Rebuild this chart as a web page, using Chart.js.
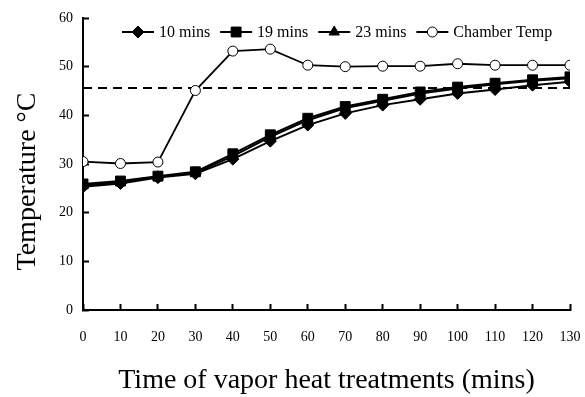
<!DOCTYPE html>
<html>
<head>
<meta charset="utf-8">
<script src="https://cdn.jsdelivr.net/npm/chart.js@4.4.0/dist/chart.umd.min.js"></script>
<style>
  html, body { margin: 0; padding: 0; background: #fff; }
  #wrap { width: 585px; height: 397px; }
</style>
</head>
<body>
<div id="wrap"><canvas id="temps" width="585" height="397"></canvas></div>
<script>
const times = [0, 10, 20, 30, 40, 50, 60, 70, 80, 90, 100, 110, 120, 130];
const mins10 = [25.3, 26.0, 27.2, 28.0, 31.0, 34.7, 38.0, 40.4, 42.1, 43.3, 44.5, 45.3, 46.2, 46.9];
const mins19 = [25.9, 26.5, 27.5, 28.4, 32.1, 36.0, 39.4, 41.8, 43.3, 44.8, 45.8, 46.6, 47.3, 47.9];
const mins23 = [25.6, 26.3, 27.4, 28.2, 31.6, 35.6, 39.0, 41.5, 43.0, 44.5, 45.5, 46.4, 47.1, 47.6];
const chamberTemp = [30.5, 30.1, 30.4, 45.1, 53.2, 53.6, 50.3, 50.0, 50.1, 50.1, 50.6, 50.3, 50.3, 50.3];
const targetTemp = 45.6;
const yTicks = [0, 10, 20, 30, 40, 50, 60];

const serif = "'Liberation Serif', 'Times New Roman', serif";

function toPoints(vals) {
  return times.map((t, i) => ({ x: t, y: vals[i] }));
}

function series(label, vals, style, radius, fill) {
  return {
    label: label,
    data: toPoints(vals),
    borderColor: '#000',
    borderWidth: 2,
    pointStyle: style,
    pointRadius: radius,
    pointBackgroundColor: fill,
    pointBorderColor: '#000',
    pointBorderWidth: 1,
    tension: 0
  };
}

// legend drawn as a row inside the top of the plot: line + marker, then the label
const rowLegend = {
  id: 'rowLegend',
  afterDraw(chart) {
    const c = chart.ctx;
    const area = chart.chartArea;
    const y = area.top + 14;
    let x = area.left + 39;
    c.save();
    c.font = '16px ' + serif;
    c.textBaseline = 'middle';
    chart.data.datasets.forEach(ds => {
      if (ds.label === 'target') return;
      c.strokeStyle = '#000';
      c.lineWidth = 2;
      c.beginPath();
      c.moveTo(x, y); c.lineTo(x + 32, y);
      c.stroke();
      c.fillStyle = ds.pointBackgroundColor;
      c.lineWidth = 1;
      Chart.helpers.drawPoint(c, { pointStyle: ds.pointStyle, radius: ds.pointRadius, rotation: 0, borderWidth: 1 }, x + 16, y);
      c.fillStyle = '#000';
      c.fillText(ds.label, x + 37, y + 1);
      x += 37 + c.measureText(ds.label).width + 10;
    });
    c.restore();
  }
};

const ctx = document.getElementById('temps').getContext('2d');
const chart = new Chart(ctx, {
  type: 'line',
  data: {
    datasets: [
      series('10 mins', mins10, 'rectRot', 6, '#000'),
      series('19 mins', mins19, 'rect', 7, '#000'),
      series('23 mins', mins23, 'triangle', 6, '#000'),
      Object.assign(series('Chamber Temp', chamberTemp, 'circle', 5, '#fff'), { borderWidth: 1.8 }),
      {
        label: 'target',
        data: [{ x: times[0], y: targetTemp }, { x: times[times.length - 1], y: targetTemp }],
        borderColor: '#000',
        borderWidth: 2,
        borderDash: [9, 6],
        pointRadius: 0
      }
    ]
  },
  plugins: [rowLegend],
  options: {
    responsive: false,
    animation: false,
    layout: { padding: { left: 11, right: 15, top: 18, bottom: 0 } },
    plugins: {
      tooltip: { enabled: false },
      legend: { display: false }
    },
    scales: {
      x: {
        type: 'linear',
        min: 0,
        max: 130,
        afterFit: s => { s.height = 87; s.paddingLeft = 0; s.paddingRight = 0; },
        ticks: { stepSize: 10, color: '#000', padding: 25, maxRotation: 0, font: { family: serif, size: 14 } },
        grid: { drawOnChartArea: false, tickLength: -6, tickWidth: 2, tickColor: '#000' },
        border: { color: '#000', width: 2 },
        title: { display: true, text: 'Time of vapor heat treatments (mins)', color: '#000', font: { family: serif, size: 28, weight: 'normal' }, padding: 0 }
      },
      y: {
        min: 0,
        max: 60,
        afterFit: s => { s.width = 72; s.paddingTop = 0; s.paddingBottom = 0; },
        afterBuildTicks: s => { s.ticks = yTicks.map(v => ({ value: v })); },
        ticks: { color: '#000', padding: 16, font: { family: serif, size: 14 } },
        grid: { drawOnChartArea: false, tickLength: -6, tickWidth: 2, tickColor: '#000' },
        border: { color: '#000', width: 2 },
        title: { display: true, text: 'Temperature °C     ', color: '#000', font: { family: serif, size: 28, weight: 'normal' }, padding: 0 }
      }
    }
  }
});
</script>
</body>
</html>
